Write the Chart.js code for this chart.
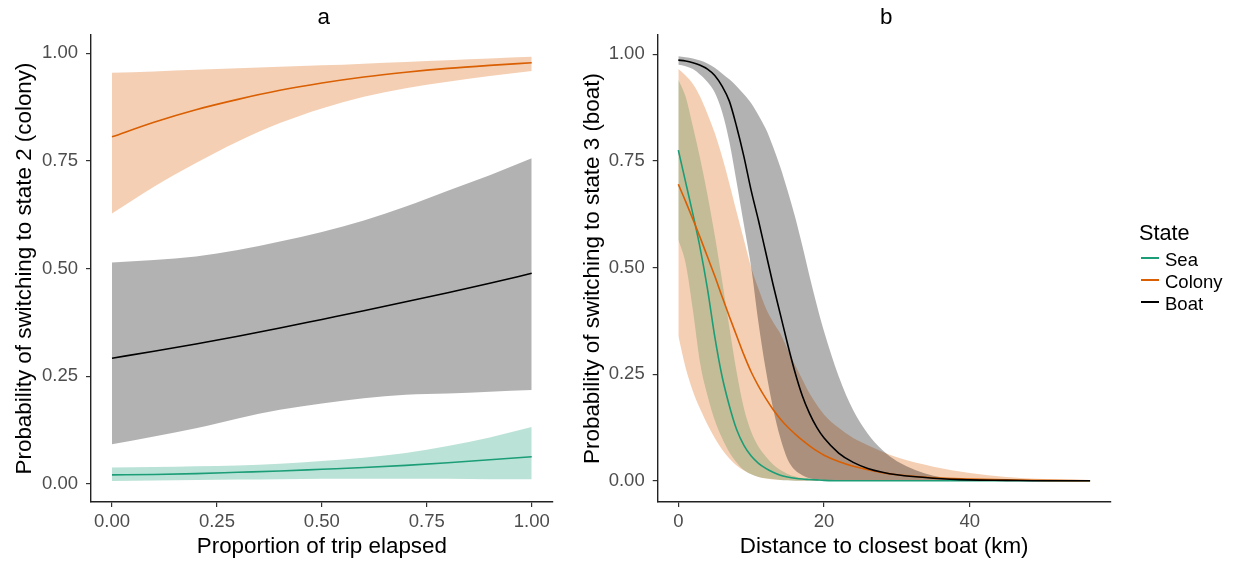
<!DOCTYPE html>
<html>
<head>
<meta charset="utf-8">
<script src="https://cdn.jsdelivr.net/npm/chart.js@4"></script>
<style>
  html, body { margin: 0; padding: 0; background: #fff; }
  body { width: 1236px; height: 565px; position: relative; overflow: hidden;
         font-family: "Liberation Sans", Arial, sans-serif; }
  canvas { position: absolute; top: 0; }
  #chartA { left: 0; }
  #chartB { left: 570px; }
  .lg { position: absolute; color: #000; white-space: nowrap; }
  .lg.head { left: 1139px; top: 220px; font-size: 21.7px; line-height: 26px; }
  .lg.item { left: 1165px; font-size: 18.5px; line-height: 22px; }
  .lg.key  { left: 1141px; width: 18px; height: 2px; }
</style>
</head>
<body>
<canvas id="chartA" width="580" height="565"></canvas>
<canvas id="chartB" width="570" height="565"></canvas>
<div class="lg head">State</div>
<div class="lg key" style="top:257px;background:#1B9E77"></div>
<div class="lg item" style="top:248.5px">Sea</div>
<div class="lg key" style="top:279px;background:#D95F02"></div>
<div class="lg item" style="top:270.5px">Colony</div>
<div class="lg key" style="top:301px;background:#000"></div>
<div class="lg item" style="top:292.5px">Boat</div>
<script>
/* ---------- data: panel a (proportion of trip elapsed) ---------- */
const tripProp  = [0, 0.1, 0.2, 0.3, 0.4, 0.5, 0.6, 0.7, 0.8, 0.9, 1.0];
const seaA      = [0.021, 0.022, 0.024, 0.027, 0.030, 0.034, 0.038, 0.043, 0.049, 0.056, 0.063];
const seaAHi    = [0.038, 0.039, 0.041, 0.043, 0.047, 0.053, 0.061, 0.072, 0.088, 0.108, 0.132];
const seaALo    = [0.007, 0.008, 0.009, 0.010, 0.011, 0.012, 0.012, 0.012, 0.012, 0.011, 0.011];
const colonyA   = [0.806, 0.840, 0.869, 0.893, 0.914, 0.931, 0.945, 0.956, 0.965, 0.972, 0.978];
const colonyAHi = [0.955, 0.958, 0.962, 0.965, 0.969, 0.972, 0.976, 0.980, 0.984, 0.988, 0.992];
const colonyALo = [0.628, 0.690, 0.745, 0.795, 0.838, 0.872, 0.899, 0.919, 0.934, 0.947, 0.959];
const boatA     = [0.292, 0.308, 0.325, 0.343, 0.362, 0.382, 0.402, 0.423, 0.444, 0.466, 0.489];
const boatAHi   = [0.514, 0.520, 0.528, 0.543, 0.563, 0.585, 0.612, 0.644, 0.681, 0.717, 0.756];
const boatALo   = [0.092, 0.110, 0.129, 0.152, 0.172, 0.187, 0.199, 0.207, 0.210, 0.214, 0.218];

/* ---------- data: panel b (distance to closest boat, km) ---------- */
const distKm    = [0, 1, 2, 3, 4, 5, 6, 7, 8, 9, 10, 11, 12, 13, 14, 15, 16, 17, 18, 19, 20,
                   22, 24, 26, 28, 30, 35, 40, 45, 50, 56.5];
const seaB      = [0.775, 0.70, 0.625, 0.545, 0.45, 0.338, 0.245, 0.176, 0.12, 0.083, 0.058, 0.041, 0.029, 0.02, 0.013, 0.009, 0.006, 0.004, 0.003, 0.002, 0.001,
                   0, 0, 0, 0, 0, 0, 0, 0, 0, 0];
const seaBHi    = [0.94, 0.90, 0.83, 0.755, 0.67, 0.575, 0.47, 0.36, 0.255, 0.17, 0.115, 0.08, 0.057, 0.038, 0.025, 0.016, 0.01, 0.006, 0.004, 0.002, 0.001,
                   0, 0, 0, 0, 0, 0, 0, 0, 0, 0];
const seaBLo    = [0.565, 0.51, 0.40, 0.275, 0.20, 0.142, 0.10, 0.067, 0.043, 0.025, 0.015, 0.009, 0.006, 0.004, 0.002, 0.001, 0, 0, 0, 0, 0,
                   0, 0, 0, 0, 0, 0, 0, 0, 0, 0];
const colonyB   = [0.695, 0.655, 0.613, 0.57, 0.525, 0.48, 0.432, 0.385, 0.34, 0.295, 0.255, 0.222, 0.193, 0.167, 0.145, 0.126, 0.11, 0.095, 0.082, 0.07, 0.06,
                   0.045, 0.034, 0.026, 0.019, 0.014, 0.007, 0.004, 0.002, 0.001, 0];
const colonyBHi = [0.965, 0.95, 0.93, 0.90, 0.86, 0.815, 0.76, 0.697, 0.63, 0.565, 0.50, 0.45, 0.405, 0.372, 0.345, 0.308, 0.272, 0.238, 0.205, 0.178, 0.155,
                   0.124, 0.10, 0.083, 0.068, 0.055, 0.033, 0.018, 0.009, 0.004, 0.001];
const colonyBLo = [0.34, 0.265, 0.21, 0.168, 0.132, 0.10, 0.073, 0.052, 0.036, 0.024, 0.015, 0.009, 0.005, 0.003, 0.002, 0.001, 0, 0, 0, 0, 0,
                   0, 0, 0, 0, 0, 0, 0, 0, 0, 0];
const boatB     = [0.986, 0.984, 0.98, 0.974, 0.965, 0.95, 0.925, 0.89, 0.83, 0.76, 0.68, 0.61, 0.535, 0.46, 0.39, 0.32, 0.255, 0.20, 0.158, 0.125, 0.10,
                   0.065, 0.043, 0.029, 0.02, 0.014, 0.006, 0.002, 0.001, 0, 0];
const boatBHi   = [0.995, 0.993, 0.99, 0.985, 0.978, 0.968, 0.955, 0.941, 0.925, 0.906, 0.885, 0.857, 0.825, 0.783, 0.735, 0.68, 0.62, 0.552, 0.48, 0.412, 0.35,
                   0.245, 0.165, 0.11, 0.072, 0.046, 0.012, 0.003, 0.001, 0, 0];
const boatBLo   = [0.975, 0.972, 0.965, 0.952, 0.935, 0.91, 0.865, 0.795, 0.70, 0.60, 0.50, 0.37, 0.26, 0.17, 0.10, 0.05, 0.025, 0.013, 0.006, 0.003, 0.002,
                   0.001, 0, 0, 0, 0, 0, 0, 0, 0, 0];

/* ---------- tick labels ---------- */
const probTicks = [0, 0.25, 0.5, 0.75, 1];
const propTicks = [0, 0.25, 0.5, 0.75, 1];
const kmTicks   = [0, 20, 40];

const FONT = '"Liberation Sans", Arial, sans-serif';
const TICK_SIZE = 18.5;
const TITLE_SIZE = 22.4;
const COLORS = { sea: '#1B9E77', colony: '#D95F02', boat: '#000000' };
const FILLS  = { sea: 'rgba(27,158,119,0.3)', colony: 'rgba(217,95,2,0.3)', boat: 'rgba(0,0,0,0.3)' };

const pts = (xs, ys) => xs.map((x, i) => ({ x: x, y: ys[i] }));

function lineSet(xs, ys, color) {
    return { data: pts(xs, ys), borderColor: color, borderWidth: 1.6, pointRadius: 0,
             fill: false, order: 0, cubicInterpolationMode: 'monotone' };
}
function bandSets(xs, hi, lo, fill) {
    return [
        { data: pts(xs, hi), borderWidth: 0, pointRadius: 0, fill: '+1', backgroundColor: fill,
          order: 1, cubicInterpolationMode: 'monotone' },
        { data: pts(xs, lo), borderWidth: 0, pointRadius: 0, fill: false,
          order: 1, cubicInterpolationMode: 'monotone' }
    ];
}

// small plugin: panel letter centred over the plot area
const panelTitle = {
    id: 'panelTitle',
    afterDraw(chart, args, opts) {
        const { ctx, chartArea } = chart;
        ctx.save();
        ctx.font = TITLE_SIZE + 'px ' + FONT;
        ctx.fillStyle = '#000';
        ctx.textAlign = 'center';
        ctx.textBaseline = 'alphabetic';
        ctx.fillText(opts.text, (chartArea.left + chartArea.right) / 2 + 2, 24);
        ctx.restore();
    }
};

function axisCommon() {
    return {
        type: 'linear',
        grid: { drawOnChartArea: false, drawTicks: true, tickLength: 5, color: '#333', lineWidth: 1.2 },
        border: { display: true, color: '#222', width: 1.4 }
    };
}

function makeChart(id, opt) {
    const xAxis = Object.assign(axisCommon(), {
        min: opt.xMin, max: opt.xMax,
        afterBuildTicks: s => { s.ticks = opt.xTicks.map(v => ({ value: v })); },
        afterFit: s => { s.height = 63; },
        ticks: { callback: opt.xFmt, font: { size: TICK_SIZE, family: FONT }, color: '#4D4D4D',
                 padding: 3.5, maxRotation: 0, autoSkip: false },
        title: { display: true, text: opt.xTitle, font: { size: TITLE_SIZE, family: FONT }, color: '#000',
                 padding: { top: 0, bottom: 4.9 } }
    });
    const yAxis = Object.assign(axisCommon(), {
        min: opt.yMin, max: opt.yMax,
        afterBuildTicks: s => { s.ticks = probTicks.map(v => ({ value: v })); },
        afterFit: s => { s.width = opt.yWidth; },
        ticks: { callback: v => v.toFixed(2), font: { size: TICK_SIZE, family: FONT }, color: '#4D4D4D', padding: 8 },
        title: { display: true, text: opt.yTitle, font: { size: TITLE_SIZE, family: FONT }, color: '#000',
                 padding: { top: opt.yTitlePad, bottom: 0 } }
    });

    return new Chart(document.getElementById(id), {
        type: 'line',
        data: { datasets: opt.datasets },
        options: {
            responsive: false,
            animation: false,
            devicePixelRatio: 1,
            layout: { padding: { top: 35, right: opt.padRight, bottom: 0, left: 0 } },
            scales: { x: xAxis, y: yAxis },
            plugins: {
                legend: { display: false },
                tooltip: { enabled: false },
                filler: { drawTime: 'beforeDatasetsDraw' },
                panelTitle: { text: opt.title }
            }
        },
        plugins: [panelTitle]
    });
}

document.addEventListener('DOMContentLoaded', () => {

    /* panel a */
    makeChart('chartA', {
        title: 'a',
        xMin: -0.05, xMax: 1.05, xTicks: propTicks, xFmt: v => v.toFixed(2),
        yMin: -0.042, yMax: 1.0425,
        yWidth: 91, yTitlePad: 11.6, padRight: 27.3,
        xTitle: 'Proportion of trip elapsed',
        yTitle: 'Probability of switching to state 2 (colony)',
        datasets: [
            lineSet(tripProp, boatA, COLORS.boat),
            lineSet(tripProp, colonyA, COLORS.colony),
            lineSet(tripProp, seaA, COLORS.sea),
            ...bandSets(tripProp, boatAHi, boatALo, FILLS.boat),
            ...bandSets(tripProp, colonyAHi, colonyALo, FILLS.colony),
            ...bandSets(tripProp, seaAHi, seaALo, FILLS.sea)
        ]
    });

    /* panel b */
    makeChart('chartB', {
        title: 'b',
        xMin: -2.83, xMax: 59.33, xTicks: kmTicks, xFmt: v => String(v),
        yMin: -0.0498, yMax: 1.045,
        yWidth: 87.7, yTitlePad: 9.1, padRight: 29.3,
        xTitle: 'Distance to closest boat (km)',
        yTitle: 'Probability of switching to state 3 (boat)',
        datasets: [
            lineSet(distKm, boatB, COLORS.boat),
            lineSet(distKm, colonyB, COLORS.colony),
            lineSet(distKm, seaB, COLORS.sea),
            ...bandSets(distKm, boatBHi, boatBLo, FILLS.boat),
            ...bandSets(distKm, colonyBHi, colonyBLo, FILLS.colony),
            ...bandSets(distKm, seaBHi, seaBLo, FILLS.sea)
        ]
    });

});
</script>
</body>
</html>
